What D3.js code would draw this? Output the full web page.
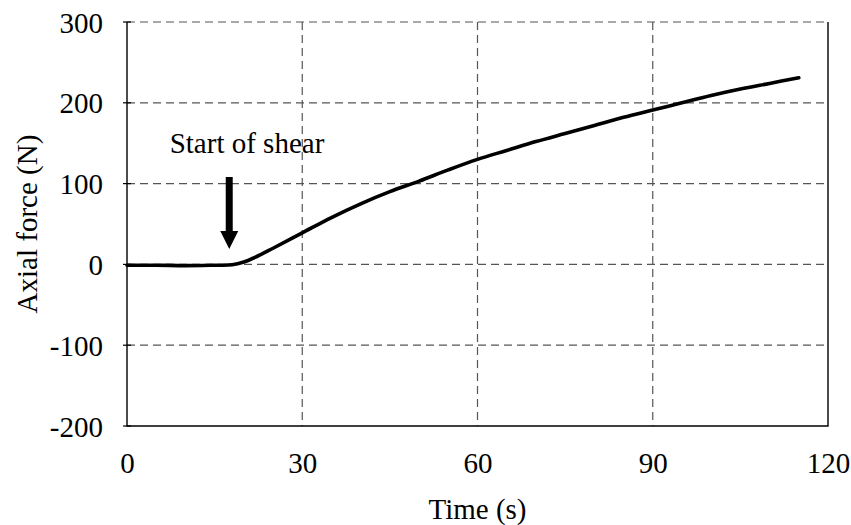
<!DOCTYPE html>
<html><head><meta charset="utf-8">
<script src="https://cdn.jsdelivr.net/npm/d3@7"></script>
<style>body{margin:0;background:#fff}svg{display:block}text{font-family:"Liberation Serif","Times New Roman",serif;fill:#000}</style>
</head><body><svg id="c" width="851" height="525"></svg>
<script>
const timeS = [0, 5, 10, 15, 18, 20, 22, 25, 30, 35, 40, 45, 50, 55, 60, 65, 70, 75, 80, 85, 90, 95, 100, 105, 110, 115];
const forceN = [-1, -1, -1.5, -1, -0.5, 3, 9, 20, 39, 58, 75, 90, 103, 117, 130, 141, 152, 162, 172, 182, 191, 200, 209, 217, 224, 231];
const xTicks = [0, 30, 60, 90, 120];
const yTicks = [-200, -100, 0, 100, 200, 300];
const annotation = {text: "Start of shear", t: 17.5};

const svg = d3.select("#c");
const L = 127, R = 828, T = 22, B = 426;
const x = d3.scaleLinear().domain([0, 120]).range([L, R]);
const y = d3.scaleLinear().domain([-200, 300]).range([B, T]);
const fs = 29;
const serif = '"Liberation Serif","Times New Roman",serif';
const fmt = d => String(d);

// grid
const g = svg.append("g");
g.selectAll(".hg").data(yTicks.filter(v => v > -200)).enter().append("line")
  .attr("x1", L).attr("x2", R).attr("y1", d => y(d)).attr("y2", d => y(d))
  .attr("stroke", "#555").attr("stroke-width", 1.2).attr("stroke-dasharray", "8,5");
g.selectAll(".vg").data(xTicks.filter(v => v > 0 && v < 120)).enter().append("line")
  .attr("x1", d => x(d)).attr("x2", d => x(d)).attr("y1", T).attr("y2", B)
  .attr("stroke", "#555").attr("stroke-width", 1.2).attr("stroke-dasharray", "8,5");

// frame (left, bottom, right)
svg.append("path").attr("d", `M${L},${T}V${B}H${R}V${T}`).attr("fill", "none")
  .attr("stroke", "#000").attr("stroke-width", 1.4);

// axes
const xa = svg.append("g").attr("transform", `translate(0,${B})`)
  .call(d3.axisBottom(x).tickValues(xTicks).tickSize(0).tickPadding(32).tickFormat(fmt));
const ya = svg.append("g").attr("transform", `translate(${L},0)`)
  .call(d3.axisLeft(y).tickValues(yTicks).tickSize(0).tickPadding(24).tickFormat(fmt));
[xa, ya].forEach(a => { a.select(".domain").remove(); a.attr("font-family", serif).attr("font-size", fs); a.selectAll("text").style("font-size", fs + "px").style("font-family", serif); });
xa.selectAll("text").attr("dy", "0.5em");
ya.selectAll("text").attr("dy", "0.35em");
// small ticks on left axis
svg.selectAll(".yt").data(yTicks).enter().append("line")
  .attr("x1", L - 4).attr("x2", L + 4).attr("y1", d => y(d)).attr("y2", d => y(d))
  .attr("stroke", "#000").attr("stroke-width", 1.2);

// titles
svg.append("text").attr("x", (L + R) / 2).attr("y", 519).attr("text-anchor", "middle")
  .style("font-size", fs + "px").text("Time (s)");
svg.append("text").attr("transform", `translate(37,${(T + B) / 2}) rotate(-90)`)
  .attr("text-anchor", "middle").style("font-size", fs + "px").text("Axial force (N)");

// curve
const line = d3.line().x((d, i) => x(timeS[i])).y(d => y(d)).curve(d3.curveCatmullRom.alpha(0.5));
svg.append("path").datum(forceN).attr("d", line).attr("fill", "none")
  .attr("stroke", "#000").attr("stroke-width", 3.6).attr("stroke-linejoin", "round").attr("stroke-linecap", "round");

// annotation
const ax = x(annotation.t);
svg.append("text").attr("x", 247).attr("y", 153).attr("text-anchor", "middle")
  .style("font-size", fs + "px").text(annotation.text);
svg.append("rect").attr("x", ax - 3.5).attr("y", 177).attr("width", 7).attr("height", 56).attr("fill", "#000");
svg.append("path").attr("d", `M${ax - 9},${231}L${ax + 9},${231}L${ax},${249}Z`).attr("fill", "#000");
</script></body></html>
